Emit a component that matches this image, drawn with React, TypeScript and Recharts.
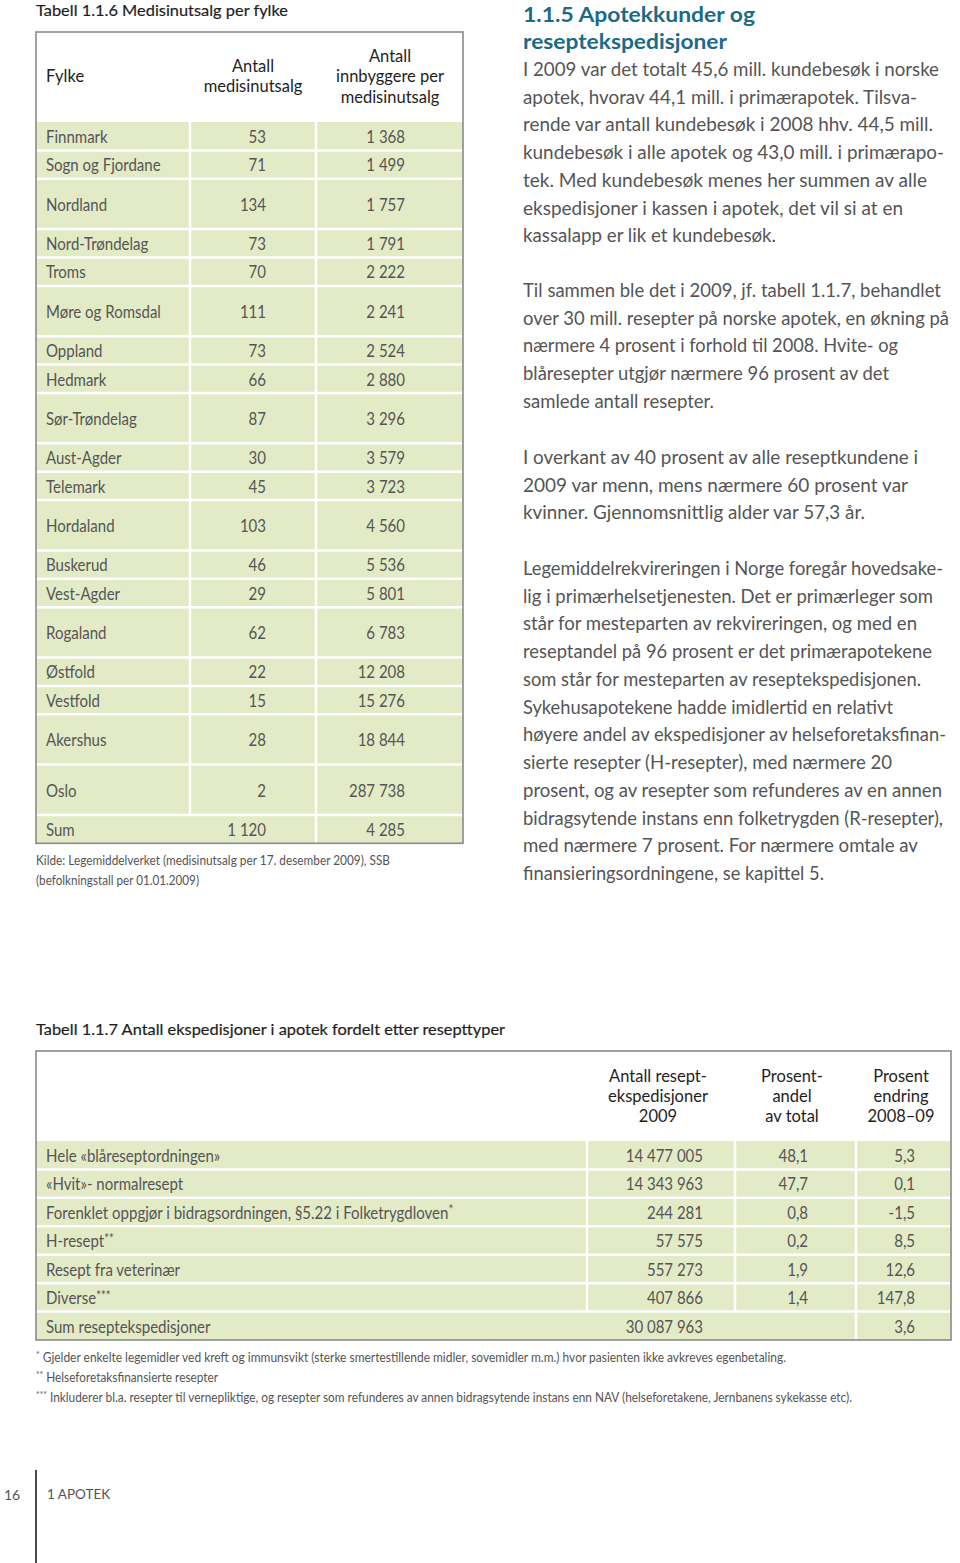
import React from "react";
import { Surface, Layer, Rectangle } from "recharts";

// ---------- DATA ----------
const fylker = [
  "Finnmark", "Sogn og Fjordane", "Nordland", "Nord-Trøndelag", "Troms",
  "Møre og Romsdal", "Oppland", "Hedmark", "Sør-Trøndelag", "Aust-Agder",
  "Telemark", "Hordaland", "Buskerud", "Vest-Agder", "Rogaland",
  "Østfold", "Vestfold", "Akershus", "Oslo",
];
const medisinutsalg = [53, 71, 134, 73, 70, 111, 73, 66, 87, 30, 45, 103, 46, 29, 62, 22, 15, 28, 2];
const innbyggerePer = [1368, 1499, 1757, 1791, 2222, 2241, 2524, 2880, 3296, 3579, 3723, 4560, 5536, 5801, 6783, 12208, 15276, 18844, 287738];
const sumMedisinutsalg = 1120;
const sumInnbyggerePer = 4285;

const resepttyper = [
  "Hele «blåreseptordningen»",
  "«Hvit»- normalresept",
  "Forenklet oppgjør i bidragsordningen, §5.22 i Folketrygdloven*",
  "H-resept**",
  "Resept fra veterinær",
  "Diverse***",
];
const antallEksp = [14477005, 14343963, 244281, 57575, 557273, 407866];
const andelAvTotal = [48.1, 47.7, 0.8, 0.2, 1.9, 1.4];
const endring0809 = [5.3, 0.1, -1.5, 8.5, 12.6, 147.8];
const sumEksp = 30087963;
const sumEndring = 3.6;

const heading = ["1.1.5 Apotekkunder og", "reseptekspedisjoner"];
const paragraphs = [
  [
    "I 2009 var det totalt 45,6 mill. kundebesøk i norske",
    "apotek, hvorav 44,1 mill. i primærapotek. Tilsva-",
    "rende var antall kundebesøk i 2008 hhv. 44,5 mill.",
    "kundebesøk i alle apotek og 43,0 mill. i primærapo-",
    "tek. Med kundebesøk menes her summen av alle",
    "ekspedisjoner i kassen i apotek, det vil si at en",
    "kassalapp er lik et kundebesøk.",
  ],
  [
    "Til sammen ble det i 2009, jf. tabell 1.1.7, behandlet",
    "over 30 mill. resepter på norske apotek, en økning på",
    "nærmere 4 prosent i forhold til 2008. Hvite- og",
    "blåresepter utgjør nærmere 96 prosent av det",
    "samlede antall resepter.",
  ],
  [
    "I overkant av 40 prosent av alle reseptkundene i",
    "2009 var menn, mens nærmere 60 prosent var",
    "kvinner. Gjennomsnittlig alder var 57,3 år.",
  ],
  [
    "Legemiddelrekvireringen i Norge foregår hovedsake-",
    "lig i primærhelsetjenesten. Det er primærleger som",
    "står for mesteparten av rekvireringen, og med en",
    "reseptandel på 96 prosent er det primærapotekene",
    "som står for mesteparten av reseptekspedisjonen.",
    "Sykehusapotekene hadde imidlertid en relativt",
    "høyere andel av ekspedisjoner av helseforetaksfinan-",
    "sierte resepter (H-resepter), med nærmere 20",
    "prosent, og av resepter som refunderes av en annen",
    "bidragsytende instans enn folketrygden (R-resepter),",
    "med nærmere 7 prosent. For nærmere omtale av",
    "finansieringsordningene, se kapittel 5.",
  ],
];
const footnotes = [
  ["*", "Gjelder enkelte legemidler ved kreft og immunsvikt (sterke smertestillende midler, sovemidler m.m.) hvor pasienten ikke avkreves egenbetaling."],
  ["**", "Helseforetaksfinansierte resepter"],
  ["***", "Inkluderer bl.a. resepter til vernepliktige, og resepter som refunderes av annen bidragsytende instans enn NAV (helseforetakene, Jernbanens sykekasse etc)."],
];

// ---------- LAYOUT / STYLE ----------
const FONT = "Lato, 'Open Sans', sans-serif";
const GREEN = "#e3eac6";
const BORDER = "#8a8a8a";
const TXT = "#555555";
const DARK = "#1e1e1e";
const TEAL = "#1b6b87";
const CELL_SX = 0.91;
const CELL_FS = 16.5;

const tallRows = [false, false, true, false, false, true, false, false, true, false, false, true, false, false, true, false, false, true, true];
const paraLineWidths = [
  [416, 394, 410, 421, 404, 380, 253],
  [418, 426, 375, 366, 191],
  [395, 385, 342],
  [420, 410, 394, 409, 398, 370, 423, 369, 419, 420, 395, 301],
];
const footnoteWidths = [750, 182, 816];
const paraStartY = [69, 290, 457, 568];
const LINE_H = 27.73;

const fmtInt = (n: number) => String(n).replace(/\B(?=(\d{3})+(?!\d))/g, " ");
const fmtDec = (n: number) => n.toFixed(1).replace(".", ",");

type TProps = {
  x: number; y: number; children: React.ReactNode; anchor?: "start" | "middle" | "end";
  size?: number; color?: string; weight?: number; len?: number; sx?: number; boldish?: boolean;
};
const T = ({ x, y, children, anchor = "start", size = 16, color = TXT, weight = 400, len, sx = 1, boldish }: TProps) => (
  <g transform={`translate(${x},${y}) scale(${sx},1)`}>
    <text
      x={0}
      y={0}
      fontSize={size}
      fill={color}
      stroke={boldish ? color : undefined}
      strokeWidth={boldish ? 0.2 : undefined}
      fontWeight={weight}
      fontFamily={FONT}
      textAnchor={anchor}
      dominantBaseline="central"
      textLength={len}
      lengthAdjust={len ? "spacingAndGlyphs" : undefined}
    >
      {children}
    </text>
  </g>
);

const Cell = (p: TProps) => <T size={CELL_FS} sx={CELL_SX} {...p} />;
const Head = (p: TProps) => <T size={16.5} color={DARK} anchor="middle" {...p} />;

const withStars = (label: string) => {
  const m = label.match(/^(.*?)(\*+)$/);
  if (!m) return label;
  return (
    <>
      {m[1]}
      <tspan fontSize={12.5} dy={-3}>{m[2]}</tspan>
    </>
  );
};

function Table1() {
  const x0 = 36, x1 = 463, c1 = 190, c2 = 316;
  const top = 32, headBottom = 122;
  const SHORT = 28.4, TALL = 50.3;
  const edges: number[] = [headBottom];
  tallRows.forEach((t) => edges.push(edges[edges.length - 1] + (t ? TALL : SHORT)));
  edges.push(edges[edges.length - 1] + SHORT);
  const bottom = edges[edges.length - 1];
  const sumTop = edges[edges.length - 2];
  const sumY = (sumTop + bottom) / 2;
  return (
    <Layer>
      <T x={36} y={9} size={16} color={DARK} len={252} boldish>Tabell 1.1.6 Medisinutsalg per fylke</T>
      <Rectangle x={x0} y={headBottom} width={x1 - x0} height={bottom - headBottom} fill={GREEN} />
      {edges.slice(1, -1).map((e, i) => (
        <line key={i} x1={x0} x2={x1} y1={e} y2={e} stroke="#fff" strokeWidth={2.5} />
      ))}
      <line x1={c1} x2={c1} y1={headBottom} y2={sumTop} stroke="#fff" strokeWidth={2.5} />
      <line x1={c2} x2={c2} y1={headBottom} y2={bottom} stroke="#fff" strokeWidth={2.5} />
      <rect x={x0} y={top} width={x1 - x0} height={bottom - top} fill="none" stroke={BORDER} strokeWidth={1.6} />
      <Head x={46} y={76} anchor="start">Fylke</Head>
      <Head x={253} y={66}>Antall</Head>
      <Head x={253} y={86}>medisinutsalg</Head>
      <Head x={390} y={56}>Antall</Head>
      <Head x={390} y={76}>innbyggere per</Head>
      <Head x={390} y={97}>medisinutsalg</Head>
      {fylker.map((f, i) => {
        const cy = (edges[i] + edges[i + 1]) / 2;
        return (
          <Layer key={f}>
            <Cell x={46} y={cy}>{f}</Cell>
            <Cell x={266} y={cy} anchor="end">{fmtInt(medisinutsalg[i])}</Cell>
            <Cell x={405} y={cy} anchor="end">{fmtInt(innbyggerePer[i])}</Cell>
          </Layer>
        );
      })}
      <Cell x={46} y={sumY}>Sum</Cell>
      <Cell x={266} y={sumY} anchor="end">{fmtInt(sumMedisinutsalg)}</Cell>
      <Cell x={405} y={sumY} anchor="end">{fmtInt(sumInnbyggerePer)}</Cell>
      <T x={36} y={860} size={13} len={354}>Kilde: Legemiddelverket (medisinutsalg per 17. desember 2009), SSB</T>
      <T x={36} y={880} size={13} len={163}>(befolkningstall per 01.01.2009)</T>
    </Layer>
  );
}

function Table2() {
  const x0 = 36, x1 = 951, c1 = 587, c2 = 735, c3 = 856;
  const top = 1051, headBottom = 1141, bottom = 1340;
  const n = resepttyper.length + 1;
  const rh = (bottom - headBottom) / n;
  const edges = Array.from({ length: n + 1 }, (_, i) => headBottom + i * rh);
  const sumTop = edges[n - 1];
  const sumY = (sumTop + bottom) / 2;
  return (
    <Layer>
      <T x={36} y={1028} size={16} color={DARK} len={469} boldish>Tabell 1.1.7 Antall ekspedisjoner i apotek fordelt etter resepttyper</T>
      <Rectangle x={x0} y={headBottom} width={x1 - x0} height={bottom - headBottom} fill={GREEN} />
      {edges.slice(1, -1).map((e, i) => (
        <line key={i} x1={x0} x2={x1} y1={e} y2={e} stroke="#fff" strokeWidth={2.5} />
      ))}
      <line x1={c1} x2={c1} y1={headBottom} y2={sumTop} stroke="#fff" strokeWidth={2.5} />
      <line x1={c2} x2={c2} y1={headBottom} y2={sumTop} stroke="#fff" strokeWidth={2.5} />
      <line x1={c3} x2={c3} y1={headBottom} y2={bottom} stroke="#fff" strokeWidth={2.5} />
      <rect x={x0} y={top} width={x1 - x0} height={bottom - top} fill="none" stroke={BORDER} strokeWidth={1.6} />
      {["Antall resept-", "ekspedisjoner", "2009"].map((s, i) => (
        <Head key={s} x={658} y={1076 + i * 20}>{s}</Head>
      ))}
      {["Prosent-", "andel", "av total"].map((s, i) => (
        <Head key={s} x={792} y={1076 + i * 20}>{s}</Head>
      ))}
      {["Prosent", "endring", "2008–09"].map((s, i) => (
        <Head key={s} x={901} y={1076 + i * 20}>{s}</Head>
      ))}
      {resepttyper.map((r, i) => {
        const cy = (edges[i] + edges[i + 1]) / 2;
        return (
          <Layer key={r}>
            <Cell x={46} y={cy}>{withStars(r)}</Cell>
            <Cell x={703} y={cy} anchor="end">{fmtInt(antallEksp[i])}</Cell>
            <Cell x={808} y={cy} anchor="end">{fmtDec(andelAvTotal[i])}</Cell>
            <Cell x={915} y={cy} anchor="end">{fmtDec(endring0809[i])}</Cell>
          </Layer>
        );
      })}
      <Cell x={46} y={sumY}>Sum reseptekspedisjoner</Cell>
      <Cell x={703} y={sumY} anchor="end">{fmtInt(sumEksp)}</Cell>
      <Cell x={915} y={sumY} anchor="end">{fmtDec(sumEndring)}</Cell>
      {footnotes.map(([star, txt], i) => (
        <text
          key={i}
          x={36}
          y={1357 + i * 20}
          fontSize={12.5}
          fill={TXT}
          fontFamily={FONT}
          dominantBaseline="central"
          textLength={footnoteWidths[i]}
          lengthAdjust="spacingAndGlyphs"
        >
          <tspan fontSize={9} dy={-3}>{star}</tspan>
          <tspan dy={3}> {txt}</tspan>
        </text>
      ))}
    </Layer>
  );
}

function TextColumn() {
  return (
    <Layer>
      <T x={523} y={13} size={21} weight={700} color={TEAL} len={232}>{heading[0]}</T>
      <T x={523} y={40} size={21} weight={700} color={TEAL} len={204}>{heading[1]}</T>
      {paragraphs.map((p, pi) =>
        p.map((line, li) => (
          <T key={`${pi}-${li}`} x={523} y={paraStartY[pi] + li * LINE_H} size={18.5} len={paraLineWidths[pi][li]}>
            {line}
          </T>
        ))
      )}
    </Layer>
  );
}

export default function App() {
  return (
    <div style={{ width: 960, height: 1563, background: "#fff" }}>
      <style>{"body{margin:0;}"}</style>
      <Surface width={960} height={1563}>
        <Table1 />
        <TextColumn />
        <Table2 />
        <Layer>
          <T x={4} y={1494} size={14}>16</T>
          <line x1={36} x2={36} y1={1470} y2={1563} stroke={DARK} strokeWidth={1.6} />
          <T x={47} y={1494} size={13.5}>1 APOTEK</T>
        </Layer>
      </Surface>
    </div>
  );
}
